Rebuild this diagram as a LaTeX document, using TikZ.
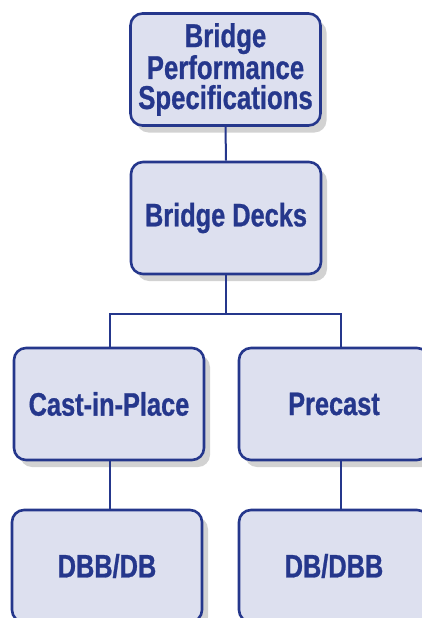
\documentclass[tikz,border=0pt]{standalone}
\usepackage{fontspec}
\setmainfont{Liberation Sans}[FakeStretch=0.78, BoldFeatures={FakeBold=0.8}]
\usepackage{tikz}
\usetikzlibrary{shadows}
\definecolor{deckfill}{HTML}{DDE0EF}
\definecolor{deckblue}{HTML}{25378C}
\newcommand{\boxFont}[0]{\fontsize{32.5}{32.5}\selectfont\bfseries}

\begin{document}
\begin{tikzpicture}[x=1pt, y=-1pt]
  \tikzset{spec box/.style={draw=deckblue, line width=2.6pt, fill=deckfill,
      rounded corners=12pt, minimum width=190pt, minimum height=112pt,
      inner sep=0pt, align=center, text=deckblue, font=\boxFont,
      drop shadow={shadow xshift=6pt, shadow yshift=-7pt, opacity=0.25, fill=black!70}},
    tree line/.style={draw=deckblue, line width=2pt}}
  \useasboundingbox (0,0) rectangle (422,618);
  \clip (0,0) rectangle (422,618);
  \node[spec box, font=\fontsize{33}{30}\selectfont\bfseries] (spec) at (225.5,69.5)
    {Bridge\\Performance\\Specifications};
  \node[spec box] (decks) at (226,218) {Bridge Decks};
  \node[spec box] (cip) at (109,404) {Cast-in-Place};
  \node[spec box] (pre) at (334,404) {Precast};
  \node[spec box] (dbbdb) at (107,566) {DBB/DB};
  \node[spec box] (dbdbb) at (334,566) {DB/DBB};
  \coordinate (jl) at (110,314);
  \coordinate (jr) at (341,314);
  \draw[tree line] (spec.south) -- (decks.north);
  \draw[tree line] (decks.south) -- (decks.south |- jl);
  \draw[tree line] (jl |- cip.north) -- (jl) -- (jr) -- (jr |- pre.north);
  \draw[tree line] (cip.south -| jl) -- (jl |- dbbdb.north);
  \draw[tree line] (pre.south -| jr) -- (jr |- dbdbb.north);
\end{tikzpicture}
\end{document}
